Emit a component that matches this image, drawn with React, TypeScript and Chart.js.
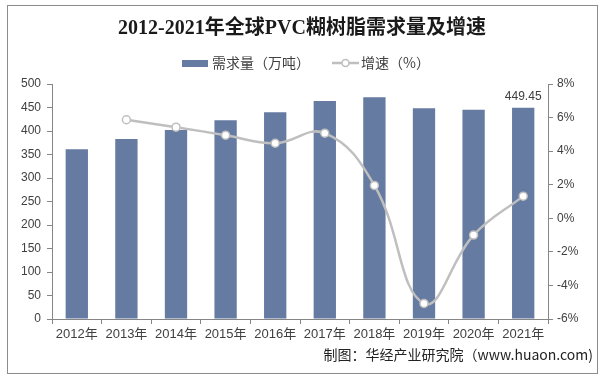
import React, { useEffect, useRef } from "react";
import { Chart, registerables } from "chart.js";

Chart.register(...registerables);

const categories = ["2012年", "2013年", "2014年", "2015年", "2016年", "2017年", "2018年", "2019年", "2020年", "2021年"];
const demand = [361, 383, 402, 423, 440, 464, 472, 448.6, 445, 449.45];
const growth = [null, 5.87, 5.43, 4.95, 4.47, 5.07, 1.96, -5.07, -1.0, 1.32];
const leftTicks = { min: 0, max: 500, step: 50 };
const rightTicks = { min: -6, max: 8, step: 2 };
const titleText = "2012-2021年全球PVC糊树脂需求量及增速";
const legendBar = "需求量（万吨）";
const legendLine = "增速（%）";
const sourceText = "制图：华经产业研究院（www.huaon.com)";
const lastLabel = "449.45";

const BAR = "#667BA1";
const LINE = "#BFBFBF";
const AXIS = "#868686";
const TEXT = "#404040";
const SANS = '"Liberation Sans", Arial, "Noto Sans CJK SC", sans-serif';

const decor = {
  id: "decor",
  afterDraw(chart: any) {
    const ctx = chart.ctx;
    ctx.save();
    // border
    ctx.strokeStyle = "#8C8C8C";
    ctx.lineWidth = 1;
    ctx.strokeRect(7.5, 5.5, 590, 368);
    // title
    ctx.fillStyle = "#1a1a1a";
    ctx.textAlign = "center";
    ctx.textBaseline = "middle";
    ctx.font = 'bold 20px "Liberation Serif", "Noto Sans CJK SC", serif';
    ctx.fillText(titleText, 302, 29);
    // legend
    ctx.fillStyle = BAR;
    ctx.fillRect(182, 60, 26, 7);
    ctx.fillStyle = TEXT;
    ctx.textAlign = "left";
    ctx.font = '14px "Noto Sans CJK SC", ' + SANS;
    ctx.fillText(legendBar, 212, 63);
    ctx.strokeStyle = LINE;
    ctx.lineWidth = 2.5;
    ctx.beginPath();
    ctx.moveTo(332, 63);
    ctx.lineTo(359, 63);
    ctx.stroke();
    ctx.beginPath();
    ctx.arc(345.5, 63, 3.5, 0, Math.PI * 2);
    ctx.fillStyle = "#fff";
    ctx.fill();
    ctx.lineWidth = 1.5;
    ctx.stroke();
    ctx.fillStyle = TEXT;
    ctx.fillText(legendLine, 361, 63);
    // data label on last bar
    const meta = chart.getDatasetMeta(0);
    const el = meta.data[meta.data.length - 1];
    if (el) {
      ctx.textAlign = "center";
      ctx.textBaseline = "bottom";
      ctx.font = "12px " + SANS;
      ctx.fillStyle = TEXT;
      ctx.fillText(lastLabel, el.x, el.y - 5);
    }
    // source
    ctx.textAlign = "right";
    ctx.textBaseline = "middle";
    ctx.font = '14px "Noto Sans CJK SC", ' + SANS;
    ctx.fillStyle = "#222";
    ctx.fillText(sourceText, 593, 355);
    ctx.restore();
  },
};

export default function App() {
  const ref = useRef<HTMLCanvasElement>(null);
  useEffect(() => {
    document.body.style.margin = "0";
    const chart = new Chart(ref.current as HTMLCanvasElement, {
      type: "bar",
      data: {
        labels: categories,
        datasets: [
          {
            type: "bar",
            label: legendBar,
            data: demand,
            backgroundColor: BAR,
            yAxisID: "y",
            barPercentage: 0.45,
            categoryPercentage: 1,
            order: 1,
          },
          {
            type: "line",
            label: legendLine,
            data: growth as any,
            yAxisID: "y1",
            borderColor: LINE,
            borderWidth: 2.5,
            tension: 0.42,
            pointRadius: 4,
            pointBackgroundColor: "#fff",
            pointBorderColor: LINE,
            pointBorderWidth: 1.5,
            order: 0,
          } as any,
        ],
      },
      options: {
        animation: false,
        responsive: false,
        layout: { padding: { top: 84, left: 0, right: 0, bottom: 0 } },
        plugins: { legend: { display: false }, title: { display: false }, tooltip: { enabled: false } },
        scales: {
          x: {
            grid: { drawOnChartArea: false, tickLength: 5, color: AXIS, offset: true },
            border: { color: AXIS },
            ticks: { color: TEXT, font: { size: 13, family: SANS }, padding: 3, maxRotation: 0, autoSkip: false },
            afterFit: (s: any) => { s.height = 60; },
          },
          y: {
            position: "left",
            min: leftTicks.min,
            max: leftTicks.max,
            ticks: { stepSize: leftTicks.step, color: TEXT, font: { size: 12, family: SANS }, padding: 6 },
            grid: { drawOnChartArea: false, tickLength: 5, color: AXIS },
            border: { color: AXIS },
            afterFit: (s: any) => { s.width = 52; },
          },
          y1: {
            position: "right",
            min: rightTicks.min,
            max: rightTicks.max,
            ticks: { stepSize: rightTicks.step, color: TEXT, font: { size: 12, family: SANS }, padding: 4, callback: (v: any) => v + "%" },
            grid: { drawOnChartArea: false, tickLength: 5, color: AXIS },
            border: { color: AXIS },
            afterFit: (s: any) => { s.width = 58; },
          },
        },
      },
      plugins: [decor],
    });
    return () => chart.destroy();
  }, []);
  return <canvas ref={ref} width={606} height={379} style={{ display: "block" }} />;
}
